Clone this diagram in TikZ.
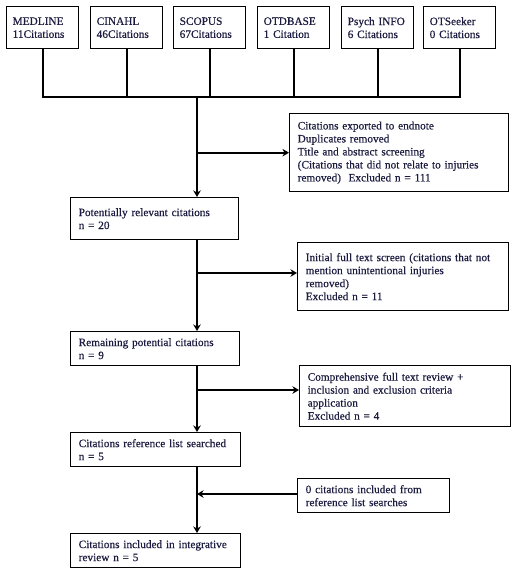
\documentclass[tikz,border=0pt]{standalone}
\usepackage{fontspec}
\setmainfont{Liberation Serif}
\newfontfamily\boxfont[FakeBold=0.5]{Liberation Serif}
\usetikzlibrary{arrows.meta,calc}
\definecolor{txtnavy}{RGB}{28,28,64}
\begin{document}
\begin{tikzpicture}[x=1pt,y={(0pt,-1pt)},
  box/.style={draw=black, line width=1.4pt, anchor=north west, inner xsep=8pt, inner ysep=0pt,
    align=left, text=txtnavy, font=\boxfont\fontsize{11.3}{13}\selectfont},
  dbbox/.style={box, inner xsep=6pt, text width=60pt, minimum height=42pt},
  conn/.style={line width=1.9pt},
  arr/.style={line width=1.9pt, -{Stealth[length=6.5pt,width=7.5pt,inset=2pt]}}]
\useasboundingbox (0,0) rectangle (515,572);
% top row
\node[dbbox] (m1) at (6,6) {MEDLINE\\11Citations};
\node[dbbox] (m2) at (90,6) {CINAHL\\46Citations};
\node[dbbox] (m3) at (173,6) {SCOPUS\\67Citations};
\node[dbbox] (m4) at (257,6) {OTDBASE\\1 Citation};
\node[dbbox] (m5) at (341,6) {Psych INFO\\6 Citations};
\node[dbbox] (m6) at (423,6) {OTSeeker\\0 Citations};
% main boxes
\node[box, text width=203pt, minimum height=78pt] (exp) at (289,113) {Citations exported to endnote\\Duplicates removed\\Title and abstract screening\\(Citations that did not relate to injuries\\removed)\ \ Excluded n = 111};
\node[box, text width=152pt, minimum height=42pt] (pot) at (70,197) {Potentially relevant citations\\n = 20};
\node[box, text width=195pt, minimum height=68pt] (init) at (297,242) {Initial full text screen (citations that not\\mention unintentional injuries\\removed)\\Excluded n = 11};
\node[box, text width=153pt, minimum height=34pt] (rem) at (70,331) {Remaining potential citations\\n = 9};
\node[box, text width=195pt, minimum height=61pt] (comp) at (299,365) {Comprehensive full text review +\\inclusion and exclusion criteria\\application\\Excluded n = 4};
\node[box, text width=154pt, minimum height=34pt] (ref) at (70,432) {Citations reference list searched\\n = 5};
\node[box, text width=136pt, minimum height=34pt] (zero) at (297,478) {0 citations included from\\reference list searches};
\node[box, text width=154pt, minimum height=34pt] (fin) at (70,533) {Citations included in integrative\\review n = 5};
% bus
\coordinate (bus) at (197,97);
\draw[conn] (m1.south) -- (m1.south |- bus) -- (m6.south |- bus) -- (m6.south);
\foreach \n in {m2,m3,m4,m5} \draw[conn] (\n.south) -- (\n.south |- bus);
\draw[arr] (bus) -- (bus |- pot.north);
\draw[arr] (bus |- exp.west) -- (exp.west);
\draw[arr] (bus |- pot.south) -- (bus |- rem.north);
\coordinate (ia) at ($(init.north west)+(0,31)$);
\draw[arr] (bus |- ia) -- (ia);
\draw[arr] (bus |- rem.south) -- (bus |- ref.north);
\coordinate (ca) at ($(comp.north west)+(0,25)$);
\draw[arr] (bus |- ca) -- (ca);
\draw[arr] (bus |- ref.south) -- (bus |- fin.north);
\coordinate (za) at ($(zero.north west)+(0,16)$);
\draw[arr] (za) -- (bus |- za);
\end{tikzpicture}
\end{document}
